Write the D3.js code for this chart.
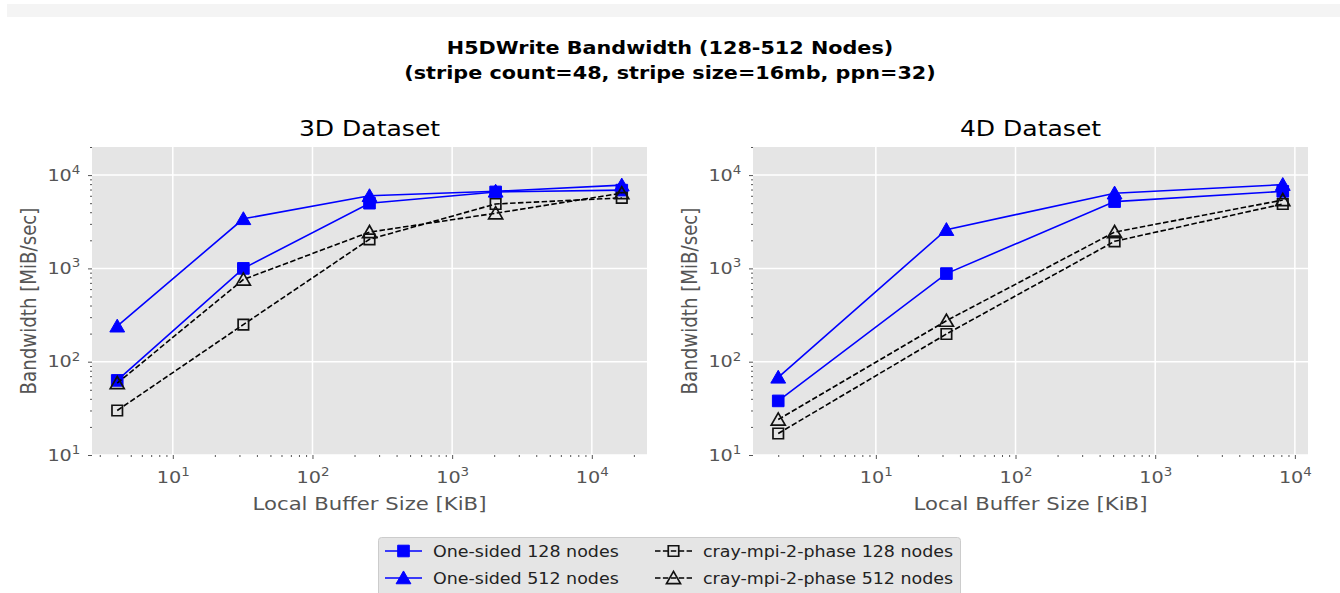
<!DOCTYPE html>
<html lang="en">
  <head>
    <meta charset="utf-8">
    <script src="https://d3js.org/d3.v7.min.js"></script>
    <title>H5DWrite Bandwidth</title>
    <style>
      body { margin: 0; background: #fff; }
      text { font-family: "DejaVu Sans", sans-serif; }
    </style>
  </head>
  <body>
    <div id="chart"></div>
    <script>
      // data
      var x3d = [4, 32, 256, 2048, 16384];
      var x4d = [2, 32, 512, 8192];

      var os128_3d = [63, 1000, 5000, 6600, 6900];
      var os512_3d = [240, 3400, 6000, 6700, 7800];
      var cr128_3d = [30, 250, 2050, 4900, 5700];
      var cr512_3d = [59, 760, 2450, 3900, 6400];

      var os128_4d = [38, 880, 5200, 6700];
      var os512_4d = [68, 2600, 6400, 7900];
      var cr128_4d = [17, 198, 1950, 4900];
      var cr512_4d = [24, 275, 2450, 5400];

      var majorTicks = [10, 100, 1000, 10000];
      var seriesNames = ["One-sided 128 nodes", "One-sided 512 nodes",
                         "cray-mpi-2-phase 128 nodes", "cray-mpi-2-phase 512 nodes"];

      var W = 1340, H = 593;
      var SX = 1.165; // the source picture is stretched sideways
      var svg = d3.select("#chart").append("svg")
        .attr("width", W).attr("height", H);

      // put a text at (x,y), widened like the source
      function label(parent, x, y, str, size, rot) {
        return parent.append("text")
          .attr("transform", "translate(" + x + "," + y + ") scale(" + SX + ",1)" + (rot ? " rotate(" + rot + ")" : ""))
          .style("font-size", size + "px")
          .text(str);
      }

      // faint band at the top of the image
      svg.append("rect").attr("x", 7).attr("y", 4).attr("width", W - 7).attr("height", 13)
        .attr("fill", "#f4f4f4");

      label(svg, 670, 54, "H5DWrite Bandwidth (128-512 Nodes)", 17.8)
        .attr("text-anchor", "middle").style("font-weight", "bold");
      label(svg, 670, 79, "(stripe count=48, stripe size=16mb, ppn=32)", 17.8)
        .attr("text-anchor", "middle").style("font-weight", "bold");

      function minorValues(lo, hi) {
        var out = [];
        for (var e = -1; e <= 5; e++) {
          for (var m = 2; m <= 9; m++) {
            var v = m * Math.pow(10, e);
            if (v >= lo && v <= hi) out.push(v);
          }
        }
        return out;
      }

      function supLabels(sel) {
        sel.selectAll(".tick text").each(function (d) {
          var t = d3.select(this);
          var p = Math.round(Math.log10(d));
          t.text("10");
          t.append("tspan").attr("dy", "-0.6em").style("font-size", "11.5px").text(p);
        });
      }

      function drawPanel(left, right, title, xs, series) {
        var top = 147, bottom = 455;
        var xDom = d3.extent(xs);
        var lx0 = Math.log10(xDom[0]), lx1 = Math.log10(xDom[1]);
        var pad = (lx1 - lx0) * 0.05;
        var x = d3.scaleLog().domain([Math.pow(10, lx0 - pad), Math.pow(10, lx1 + pad)])
          .range([left, right]);
        var y = d3.scaleLog().domain([10, 20000]).range([bottom, top]);
        var xMajor = majorTicks.filter(function (v) { return v >= x.domain()[0] && v <= x.domain()[1]; });

        var g = svg.append("g");
        g.append("rect").attr("x", left).attr("y", top)
          .attr("width", right - left).attr("height", bottom - top).attr("fill", "#e5e5e5");

        // grid
        g.selectAll(".gx").data(xMajor)
          .enter().append("line")
          .attr("x1", function (d) { return x(d); }).attr("x2", function (d) { return x(d); })
          .attr("y1", top).attr("y2", bottom).attr("stroke", "#fff").attr("stroke-width", 1.5);
        g.selectAll(".gy").data(majorTicks)
          .enter().append("line")
          .attr("y1", function (d) { return y(d); }).attr("y2", function (d) { return y(d); })
          .attr("x1", left).attr("x2", right).attr("stroke", "#fff").attr("stroke-width", 1.5);

        // axes
        var xa = g.append("g").attr("transform", "translate(0," + bottom + ")")
          .call(d3.axisBottom(x).tickValues(xMajor).tickSize(4).tickPadding(12));
        var xm = g.append("g").attr("transform", "translate(0," + bottom + ")")
          .call(d3.axisBottom(x).tickValues(minorValues(x.domain()[0], x.domain()[1])).tickSize(2).tickFormat(""));
        var ya = g.append("g").attr("transform", "translate(" + left + ",0)")
          .call(d3.axisLeft(y).tickValues(majorTicks).tickSize(4).tickPadding(6));
        var ym = g.append("g").attr("transform", "translate(" + left + ",0)")
          .call(d3.axisLeft(y).tickValues(minorValues(10, 20000)).tickSize(2).tickFormat(""));
        [xa, xm, ya, ym].forEach(function (a) {
          a.select(".domain").remove();
          a.selectAll("line").attr("stroke", "#555");
          a.selectAll("text").attr("fill", "#555").style("font-size", "16.5px")
            .style("font-family", "DejaVu Sans, sans-serif")
            .attr("transform", "scale(" + SX + ",1)");
        });
        supLabels(xa);
        supLabels(ya);

        var cx = (left + right) / 2;
        label(g, cx, 136, title, 21.5).attr("text-anchor", "middle");
        label(g, cx, 510, "Local Buffer Size [KiB]", 18.2)
          .attr("text-anchor", "middle").attr("fill", "#555");
        label(g, left - 56, (top + bottom) / 2, "Bandwidth [MiB/sec]", 18.2, -90)
          .attr("text-anchor", "middle").attr("fill", "#555");

        var line = d3.line().x(function (d) { return x(d[0]); }).y(function (d) { return y(d[1]); });
        series.forEach(function (s) {
          var pts = xs.map(function (v, i) { return [v, s.values[i]]; });
          g.append("path").datum(pts).attr("d", line)
            .attr("fill", "none").attr("stroke", s.color).attr("stroke-width", 1.6)
            .attr("stroke-dasharray", s.dashed ? "5.5,2.4" : null);
          pts.forEach(function (p) {
            drawMarker(g, x(p[0]), y(p[1]), s);
          });
        });
      }

      function drawMarker(g, px, py, s) {
        var sym = s.shape === "square" ? d3.symbolSquare : d3.symbolTriangle;
        var size;
        if (s.filled) size = s.shape === "square" ? 135 : 95;
        else size = s.shape === "square" ? 110 : 85;
        var m = g.append("path")
          .attr("d", d3.symbol().type(sym).size(size)())
          .attr("transform", "translate(" + px + "," + (py + (s.shape === "triangle" ? 1.5 : 0)) + ")");
        if (s.filled) {
          m.attr("fill", "#0000ff").attr("stroke", "#0000ff").attr("stroke-width", 1);
        } else {
          m.attr("fill", "none").attr("stroke", "#111").attr("stroke-width", 1.7);
        }
      }

      function styles(v1, v2, v3, v4) {
        return [
          { values: v1, color: "#0000ff", shape: "square", filled: true, dashed: false },
          { values: v2, color: "#0000ff", shape: "triangle", filled: true, dashed: false },
          { values: v3, color: "#000", shape: "square", filled: false, dashed: true },
          { values: v4, color: "#000", shape: "triangle", filled: false, dashed: true }
        ];
      }

      drawPanel(92, 647, "3D Dataset", x3d, styles(os128_3d, os512_3d, cr128_3d, cr512_3d));
      drawPanel(753, 1308, "4D Dataset", x4d, styles(os128_4d, os512_4d, cr128_4d, cr512_4d));

      // legend
      var lg = svg.append("g");
      lg.append("rect").attr("x", 378.5).attr("y", 537.5).attr("width", 582).attr("height", 62)
        .attr("rx", 3).attr("fill", "#e5e5e5").attr("stroke", "#cccccc");
      var legStyles = styles([], [], [], []);
      legStyles.forEach(function (s, i) {
        var col = Math.floor(i / 2), row = i % 2;
        var hx = col === 0 ? 385 : 655;
        var ly = row === 0 ? 551 : 578;
        lg.append("line").attr("x1", hx).attr("x2", hx + 37).attr("y1", ly).attr("y2", ly)
          .attr("stroke", s.color).attr("stroke-width", 1.6)
          .attr("stroke-dasharray", s.dashed ? "5.5,2.4" : null);
        drawMarker(lg, hx + 18.5, ly, s);
        label(lg, hx + 48, ly + 5.5, seriesNames[i], 15).attr("fill", "#222");
      });
    </script>
  </body>
</html>
